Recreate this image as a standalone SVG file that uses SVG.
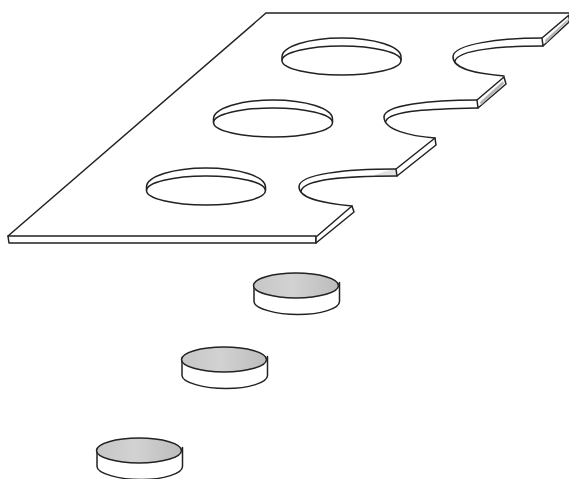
<svg xmlns="http://www.w3.org/2000/svg" width="569" height="479" viewBox="0 0 569 479">
<defs>
<linearGradient id="disc" x1="0" y1="0" x2="1" y2="0">
<stop offset="0" stop-color="#c6c6c6"/><stop offset="0.45" stop-color="#d2d2d2"/><stop offset="1" stop-color="#bcbcbc"/>
</linearGradient>
<g id="hole">
<path class="l" d="M-59.500,3 V0 A59.500,19 0 0 1 59.500,0 V3"/>
<ellipse class="l" cx="0" cy="3.500" rx="59.500" ry="14.500" />
</g>
<g id="puck">
<path class="l" d="M-42,0 V16 C-42,23 -20,29 2,29 C25,29 43.500,23 43.500,16 V-3"/>
<ellipse class="s" cx="0" cy="0" rx="42.500" ry="12.500"/>
</g>
</defs>
<style>
.l{fill:none;stroke:#222;stroke-width:1.500}
.s{fill:url(#disc);stroke:#222;stroke-width:1.500}
.e{fill:#fff;stroke:#222;stroke-width:1.500;stroke-linejoin:round}
.g{fill:#b5b5b5;stroke:none}
#plate, #holes, #pucks {stroke-linecap:round}
</style>
<rect width="569" height="479" fill="#fff"/>
<g id="plate">
<path class="l" d="M569,13 H266 L8,236"/>
<path class="e" d="M8,236 H316 V243 H9 Z"/>
<path class="e" d="M316,237 L352,206 L354,212 L316,243 Z"/>
<path class="g" d="M375,175 C382,172 390,170 396,169 L397,176 C390,176 382,176 375,176 Z" opacity="0.4"/>
<path class="l" d="M352,206 C330,204 299,200 299,187 C299,174 345,169 396,169"/>
<path class="l" d="M301,191 C304,179 345,176 397,176"/>
<path class="e" d="M396,169 L435,138 L436,145 L397,176 Z"/>
<path class="l" d="M435,138 C410,136 384,130 384,117 C384,105 430,100 477,100"/>
<path class="l" d="M386,121 C390,110 435,109 478,108"/>
<path class="e" d="M477,100 L504,77 L506,84 L478,108 Z"/>
<path class="g" d="M480,102 L503,81 L504,84 L481,105 Z"/>
<path class="l" d="M504,76 C480,74 453,70 453,57 C453,44 500,38 542,38"/>
<path class="l" d="M455,61 C458,50 500,46 543,46"/>
<path class="e" d="M542,38 L569,15 V22 L543,46 Z"/>
<path class="g" d="M545,40 L569,18 V20 L546,43 Z"/>
</g>
<g id="holes">
<use id="hole1" href="#hole" x="341.500" y="57"/>
<use id="hole2" href="#hole" x="273" y="119"/>
<use id="hole3" href="#hole" x="206" y="187"/>
</g>
<g id="pucks">
<use id="puck1" href="#puck" x="296" y="285.500"/>
<use id="puck2" href="#puck" x="224" y="359.500"/>
<use id="puck3" href="#puck" x="139" y="450.500"/>
</g>
</svg>
